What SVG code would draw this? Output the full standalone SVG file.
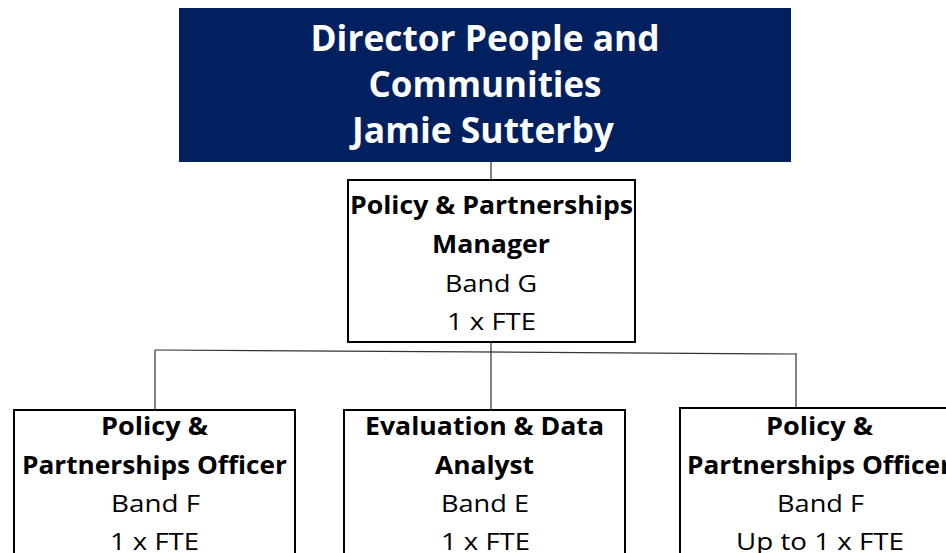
<svg xmlns="http://www.w3.org/2000/svg" width="946" height="553" viewBox="0 0 946 553">
<style>
.box{fill:#ffffff;stroke:#000000;stroke-width:2}
.t{font-family:"Open Sans","Liberation Sans",sans-serif;text-anchor:middle;fill:#000000}
.b{font-weight:bold}
.big{font-size:35px;fill:#ffffff;font-weight:bold}
.mid{font-size:24.5px}
.conn line{stroke:#333333;stroke-width:1.2}
</style>
<rect x="0" y="0" width="946" height="553" fill="#ffffff"/>
<g class="conn" id="connectors">
<line x1="491" y1="162" x2="491" y2="180"/>
<line x1="491" y1="342" x2="491" y2="410"/>
<line x1="155" y1="350" x2="796" y2="354"/>
<line x1="155" y1="350" x2="155" y2="410"/>
<line x1="796" y1="353" x2="796" y2="408"/>
</g>
<g id="director">
<rect x="179" y="8" width="612" height="154" fill="#002060"/>
<text class="t big" x="485" y="51" textLength="349" lengthAdjust="spacingAndGlyphs">Director People and</text>
<text class="t big" x="485" y="97" textLength="233" lengthAdjust="spacingAndGlyphs">Communities</text>
<text class="t big" x="483" y="143" textLength="262" lengthAdjust="spacingAndGlyphs">Jamie Sutterby</text>
</g>
<g id="manager">
<rect class="box" x="348" y="180" width="287" height="162"/>
<text class="t b mid" x="491.5" y="214" textLength="283" lengthAdjust="spacingAndGlyphs">Policy &amp; Partnerships</text>
<text class="t b mid" x="491" y="253" textLength="118" lengthAdjust="spacingAndGlyphs">Manager</text>
<text class="t mid" x="491" y="292" textLength="92" lengthAdjust="spacingAndGlyphs">Band G</text>
<text class="t mid" x="491.5" y="330" textLength="89" lengthAdjust="spacingAndGlyphs">1 x FTE</text>
</g>
<g id="officer1">
<rect class="box" x="14" y="410" width="281" height="150"/>
<text class="t b mid" x="154.5" y="435" textLength="107" lengthAdjust="spacingAndGlyphs">Policy &amp;</text>
<text class="t b mid" x="154.5" y="474" textLength="265" lengthAdjust="spacingAndGlyphs">Partnerships Officer</text>
<text class="t mid" x="155.5" y="512" textLength="89" lengthAdjust="spacingAndGlyphs">Band F</text>
<text class="t mid" x="154.5" y="550" textLength="89" lengthAdjust="spacingAndGlyphs">1 x FTE</text>
</g>
<g id="analyst">
<rect class="box" x="344" y="410" width="281" height="150"/>
<text class="t b mid" x="484.5" y="435" textLength="239" lengthAdjust="spacingAndGlyphs">Evaluation &amp; Data</text>
<text class="t b mid" x="484.5" y="474" textLength="99" lengthAdjust="spacingAndGlyphs">Analyst</text>
<text class="t mid" x="485" y="512" textLength="88" lengthAdjust="spacingAndGlyphs">Band E</text>
<text class="t mid" x="485.5" y="550" textLength="89" lengthAdjust="spacingAndGlyphs">1 x FTE</text>
</g>
<g id="officer2">
<rect class="box" x="680" y="408" width="281" height="152"/>
<text class="t b mid" x="819.5" y="435" textLength="107" lengthAdjust="spacingAndGlyphs">Policy &amp;</text>
<text class="t b mid" x="819.5" y="474" textLength="265" lengthAdjust="spacingAndGlyphs">Partnerships Officer</text>
<text class="t mid" x="820.5" y="512" textLength="87" lengthAdjust="spacingAndGlyphs">Band F</text>
<text class="t mid" x="820" y="550" textLength="168" lengthAdjust="spacingAndGlyphs">Up to 1 x FTE</text>
</g>
</svg>
